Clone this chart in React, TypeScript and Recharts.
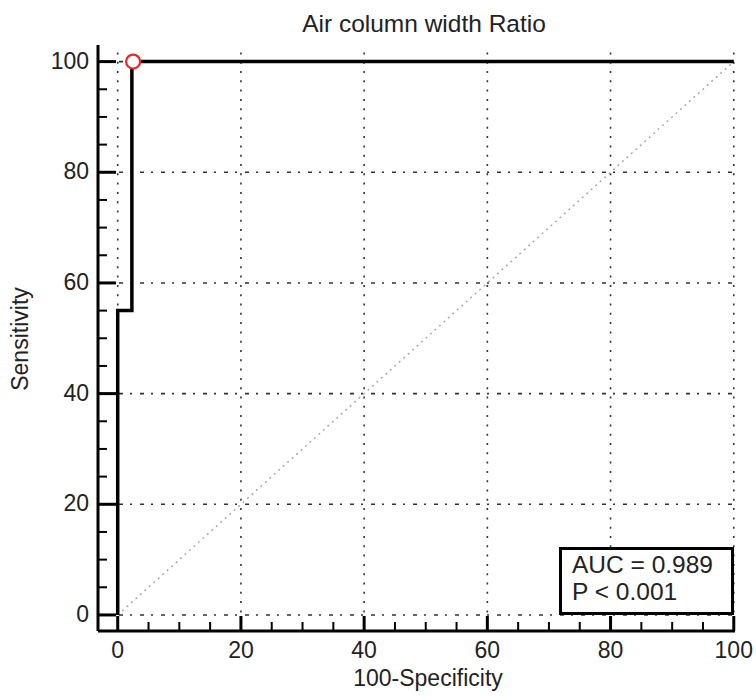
import React from "react";
import {
  LineChart,
  Line,
  XAxis,
  YAxis,
  ReferenceLine,
  ReferenceDot,
} from "recharts";

// ROC curve points (100-Specificity, Sensitivity)
const fpr = [0, 0, 2.3, 2.3, 100];
const tpr = [0, 55, 55, 100, 100];
const chanceX = [0, 100];
const chanceY = [0, 100];
const cutoff = { x: 2.5, y: 100 };

const axisTicks = [0, 5, 10, 15, 20, 25, 30, 35, 40, 45, 50, 55, 60, 65, 70, 75, 80, 85, 90, 95, 100];
const gridValues = [0, 20, 40, 60, 80, 100];

const title = "Air column width Ratio";
const xLabel = "100-Specificity";
const yLabel = "Sensitivity";
const aucText = "AUC = 0.989";
const pText = "P < 0.001";

const rocData = fpr.map((x, i) => ({ x, y: tpr[i] }));
const chanceData = chanceX.map((x, i) => ({ x, y: chanceY[i] }));

const FONT = "'Liberation Sans', Arial, Helvetica, sans-serif";
const TEXT = "#222";
const FS = 23;

const XTick = (props: any) => {
  const { x, y, payload } = props;
  const v = payload.value;
  const major = v % 20 === 0;
  return (
    <g>
      <line
        x1={x}
        x2={x}
        y1={y}
        y2={y - (major ? 15 : 9)}
        stroke="#000"
        strokeWidth={major ? 3 : 2}
      />
      {major && (
        <text x={x} y={y + 27} textAnchor="middle" fontFamily={FONT} fontSize={FS} fill={TEXT}>
          {v}
        </text>
      )}
    </g>
  );
};

const YTick = (props: any) => {
  const { x, y, payload } = props;
  const v = payload.value;
  const major = v % 20 === 0;
  return (
    <g>
      <line
        x1={x}
        x2={x + (major ? 18 : 9)}
        y1={y}
        y2={y}
        stroke="#000"
        strokeWidth={major ? 3 : 2}
      />
      {major && (
        <text x={x - 9} y={y + 7} textAnchor="end" fontFamily={FONT} fontSize={FS} fill={TEXT}>
          {v}
        </text>
      )}
    </g>
  );
};

export default function App() {
  return (
    <div style={{ position: "absolute", left: 0, top: 0, width: 756, height: 696, background: "#fff" }}>
      <LineChart
        width={756}
        height={696}
        margin={{ top: 45, right: 21, bottom: 0, left: 0 }}
      >
        <XAxis
          type="number"
          dataKey="x"
          domain={[-3.2, 100.2]}
          allowDataOverflow
          ticks={axisTicks}
          interval={0}
          tickSize={0}
          tickMargin={0}
          tickLine={false}
          tick={<XTick />}
          axisLine={{ stroke: "#000", strokeWidth: 3 }}
          height={65}
        />
        <YAxis
          type="number"
          dataKey="y"
          domain={[-2.9, 103]}
          allowDataOverflow
          ticks={axisTicks}
          interval={0}
          tickSize={0}
          tickMargin={0}
          tickLine={false}
          tick={<YTick />}
          axisLine={{ stroke: "#000", strokeWidth: 3 }}
          width={98}
        />
        {gridValues.map((v) => (
          <ReferenceLine
            key={"vx" + v}
            x={v}
            stroke="#333"
            strokeWidth={1.6}
            strokeDasharray="2 7.3"
          />
        ))}
        {gridValues.map((v) => (
          <ReferenceLine
            key={"hy" + v}
            y={v}
            stroke="#333"
            strokeWidth={1.6}
            strokeDasharray="4 7 2 8"
          />
        ))}
        <Line
          data={chanceData}
          dataKey="y"
          type="linear"
          stroke="#aaa"
          strokeWidth={1.5}
          strokeDasharray="2 4"
          dot={false}
          activeDot={false}
          isAnimationActive={false}
        />
        <Line
          data={rocData}
          dataKey="y"
          type="linear"
          stroke="#000"
          strokeWidth={3.5}
          dot={false}
          activeDot={false}
          isAnimationActive={false}
        />
        <ReferenceDot
          x={cutoff.x}
          y={cutoff.y}
          r={7}
          fill="#fff"
          stroke="#e8282b"
          strokeWidth={2.2}
        />
      </LineChart>
      <svg
        width={756}
        height={696}
        style={{ position: "absolute", left: 0, top: 0, pointerEvents: "none" }}
      >
        <text x={424} y={32} textAnchor="middle" fontFamily={FONT} fontSize={24.5} fill={TEXT}>
          {title}
        </text>
        <text x={428} y={686} textAnchor="middle" fontFamily={FONT} fontSize={FS} fill={TEXT}>
          {xLabel}
        </text>
        <text
          x={28}
          y={339}
          textAnchor="middle"
          fontFamily={FONT}
          fontSize={FS}
          fill={TEXT}
          transform="rotate(-90 28 339)"
        >
          {yLabel}
        </text>
        <rect x={560.5} y={548.5} width={172} height={65} fill="#fff" stroke="#000" strokeWidth={3} />
        <text x={572} y={573} fontFamily={FONT} fontSize={24.5} fill={TEXT}>
          {aucText}
        </text>
        <text x={572} y={600} fontFamily={FONT} fontSize={24.5} fill={TEXT}>
          {pText}
        </text>
      </svg>
    </div>
  );
}
